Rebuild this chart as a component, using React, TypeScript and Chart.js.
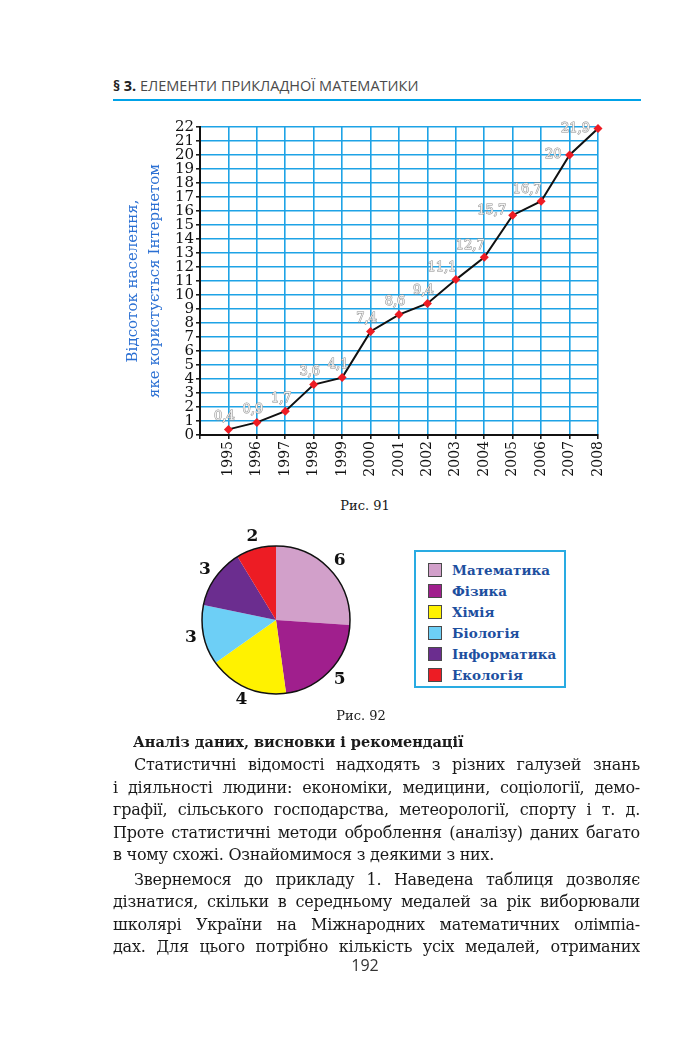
import React, { useEffect, useRef } from 'react';
import { Chart, registerables } from 'chart.js';

Chart.register(...registerables);

// ---------- data ----------
const years = [1995, 1996, 1997, 1998, 1999, 2000, 2001, 2002, 2003, 2004, 2005, 2006, 2007, 2008];
const internetShare = [0.4, 0.9, 1.7, 3.6, 4.1, 7.4, 8.6, 9.4, 11.1, 12.7, 15.7, 16.7, 20, 21.9];
const yMin = 0;
const yMax = 22;
const yAxisTitle = ['Відсоток населення,', 'яке користується Інтернетом'];

const subjects = ['Математика', 'Фізика', 'Хімія', 'Біологія', 'Інформатика', 'Екологія'];
const subjectCounts = [6, 5, 4, 3, 3, 2];
const subjectColors = ['#d2a0ca', '#a01f8d', '#fff200', '#6dcff6', '#6b2d8f', '#ed1c24'];

// ---------- styles (not data) ----------
const labelPlacement = ['up', 'up', 'up', 'up', 'up', 'up', 'up', 'up', 'upleft', 'upleft', 'leftup', 'upleft', 'left', 'left'];
const SERIF = '"DejaVu Serif", serif';
const GRID = '#1ea3e6';

const bodyLines: { text: string; indent: boolean; last: boolean }[] = [
  { text: 'Статистичні відомості надходять з різних галузей знань', indent: true, last: false },
  { text: 'і діяльності людини: економіки, медицини, соціології, демо-', indent: false, last: false },
  { text: 'графії, сільського господарства, метеорології, спорту і т. д.', indent: false, last: false },
  { text: 'Проте статистичні методи оброблення (аналізу) даних багато', indent: false, last: false },
  { text: 'в чому схожі. Ознайомимося з деякими з них.', indent: false, last: true },
  { text: 'Звернемося до прикладу 1. Наведена таблиця дозволяє', indent: true, last: false },
  { text: 'дізнатися, скільки в середньому медалей за рік виборювали', indent: false, last: false },
  { text: 'школярі України на Міжнародних математичних олімпіа-', indent: false, last: false },
  { text: 'дах. Для цього потрібно кількість усіх медалей, отриманих', indent: false, last: false },
];
const bodyLineY = [765, 788, 810, 833, 855, 880, 902, 925, 947];

function fmt(v: number) {
  return String(v).replace('.', ',');
}

function LineChart() {
  const ref = useRef<HTMLCanvasElement>(null);
  useEffect(() => {
    const valueLabels = {
      id: 'valueLabels',
      afterDatasetsDraw(chart: any) {
        const ctx = chart.ctx;
        const meta = chart.getDatasetMeta(0);
        ctx.save();
        ctx.font = `13px ${SERIF}`;
        ctx.textBaseline = 'middle';
        meta.data.forEach((pt: any, i: number) => {
          const t = fmt(internetShare[i]);
          const p = labelPlacement[i];
          let x = pt.x, y = pt.y;
          ctx.textAlign = 'center';
          if (p === 'up') { x -= 4; y -= 13; }
          else if (p === 'upleft') { x -= 14; y -= 12; }
          else if (p === 'leftup') { x -= 21; y -= 5; }
          else if (p === 'left') { x -= 8; ctx.textAlign = 'right'; }
          ctx.lineWidth = 1;
          ctx.strokeStyle = '#8c8c8c';
          ctx.strokeText(t, x, y);
          ctx.fillStyle = '#f2f2f2';
          ctx.fillText(t, x, y);
        });
        ctx.restore();
      },
    };

    const chart = new Chart(ref.current!, {
      type: 'line',
      data: {
        datasets: [
          {
            data: years.map((yr, i) => ({ x: yr, y: internetShare[i] })),
            borderColor: '#111',
            borderWidth: 2,
            tension: 0,
            pointStyle: 'rectRot',
            pointRadius: 4.5,
            pointBackgroundColor: '#ee1c24',
            pointBorderWidth: 0,
            clip: false as any,
          },
        ],
      },
      options: {
        animation: false,
        responsive: false,
        devicePixelRatio: 1,
        layout: { padding: { top: 22, right: 22, left: 0, bottom: 0 } },
        plugins: { legend: { display: false }, tooltip: { enabled: false } },
        scales: {
          x: {
            type: 'linear',
            min: years[0] - 1,
            max: years[years.length - 1],
            afterFit: (s: any) => { s.height = 55; },
            grid: { color: GRID, lineWidth: 1.6, tickColor: '#111', tickLength: 4, tickWidth: 1.5 },
            border: { color: '#111', width: 2 },
            ticks: {
              stepSize: 1,
              autoSkip: false,
              minRotation: 90,
              maxRotation: 90,
              padding: 2,
              color: '#111',
              font: { family: SERIF, size: 14 },
              callback: (v: any) => (years.includes(Number(v)) ? String(v) : ''),
            },
          },
          y: {
            min: yMin,
            max: yMax,
            afterFit: (s: any) => { s.width = 100; },
            grid: { color: GRID, lineWidth: 1.6, tickColor: '#111', tickLength: 4, tickWidth: 1.5 },
            border: { color: '#111', width: 2 },
            ticks: {
              stepSize: 1,
              autoSkip: false,
              padding: 2,
              color: '#111',
              font: { family: SERIF, size: 15 },
            },
            title: {
              display: true,
              text: yAxisTitle,
              color: '#2a6fd3',
              font: { family: SERIF, size: 15, lineHeight: 1.45 },
              padding: { top: 22, bottom: 0 },
            },
          },
        },
      },
      plugins: [valueLabels],
    } as any);
    return () => chart.destroy();
  }, []);
  return <canvas ref={ref} width={520} height={385} style={{ position: 'absolute', left: 100, top: 105 }} />;
}

function PieChart() {
  const ref = useRef<HTMLCanvasElement>(null);
  useEffect(() => {
    const pieDecor = {
      id: 'pieDecor',
      afterDatasetsDraw(chart: any) {
        const ctx = chart.ctx;
        const arcs = chart.getDatasetMeta(0).data;
        if (!arcs.length) return;
        const a0 = arcs[0];
        ctx.save();
        ctx.beginPath();
        ctx.arc(a0.x, a0.y, a0.outerRadius, 0, Math.PI * 2);
        ctx.lineWidth = 1.5;
        ctx.strokeStyle = '#111';
        ctx.stroke();
        ctx.font = `bold 17px ${SERIF}`;
        ctx.fillStyle = '#111';
        ctx.textAlign = 'center';
        ctx.textBaseline = 'middle';
        arcs.forEach((a: any, i: number) => {
          const mid = (a.startAngle + a.endAngle) / 2;
          const r = a.outerRadius + 13;
          ctx.fillText(String(subjectCounts[i]), a.x + Math.cos(mid) * r, a.y + Math.sin(mid) * r);
        });
        ctx.restore();
      },
    };
    const chart = new Chart(ref.current!, {
      type: 'pie',
      data: {
        labels: subjects,
        datasets: [{ data: subjectCounts, backgroundColor: subjectColors, borderWidth: 0 }],
      },
      options: {
        animation: false,
        responsive: false,
        devicePixelRatio: 1,
        layout: { padding: { top: 26, bottom: 26, left: 36, right: 36 } },
        plugins: { legend: { display: false }, tooltip: { enabled: false } },
      },
      plugins: [pieDecor],
    } as any);
    return () => chart.destroy();
  }, []);
  return <canvas ref={ref} width={220} height={200} style={{ position: 'absolute', left: 166, top: 520 }} />;
}

export default function App() {
  return (
    <div
      style={{
        position: 'absolute',
        left: 0,
        top: 0,
        width: 700,
        height: 1046,
        background: '#fff',
        overflow: 'hidden',
        color: '#1a1a1a',
      }}
    >
      {/* header */}
      <div
        style={{
          position: 'absolute',
          left: 113,
          top: 76,
          height: 20,
          lineHeight: '20px',
          fontFamily: '"Open Sans", sans-serif',
          fontSize: 14.5,
          color: '#4a4a4a',
          whiteSpace: 'nowrap',
        }}
      >
        <span style={{ fontWeight: 700, color: '#222' }}>§ 3.</span> ЕЛЕМЕНТИ ПРИКЛАДНОЇ МАТЕМАТИКИ
      </div>
      <div style={{ position: 'absolute', left: 113, top: 99, width: 528, height: 2, background: '#00a2e8' }} />

      <LineChart />
      <div
        style={{
          position: 'absolute',
          left: 300,
          width: 130,
          top: 497,
          textAlign: 'center',
          fontFamily: SERIF,
          fontSize: 13,
          lineHeight: '18px',
        }}
      >
        Рис. 91
      </div>

      <PieChart />
      <div
        style={{
          position: 'absolute',
          left: 414,
          top: 550,
          width: 148,
          height: 134,
          border: '2px solid #29abe2',
        }}
      >
        {subjects.map((s, i) => (
          <div
            key={s}
            style={{ position: 'absolute', left: 12, top: 8 + i * 21, height: 20, display: 'flex', alignItems: 'center' }}
          >
            <div
              style={{
                width: 12,
                height: 12,
                background: subjectColors[i],
                border: '1px solid #4a4a4a',
                marginRight: 10,
              }}
            />
            <span
              style={{
                fontFamily: SERIF,
                fontWeight: 700,
                fontSize: 13.5,
                color: '#1d4f9f',
                whiteSpace: 'nowrap',
              }}
            >
              {s}
            </span>
          </div>
        ))}
      </div>
      <div
        style={{
          position: 'absolute',
          left: 300,
          width: 122,
          top: 707,
          textAlign: 'center',
          fontFamily: SERIF,
          fontSize: 13,
          lineHeight: '18px',
        }}
      >
        Рис. 92
      </div>

      <div
        style={{
          position: 'absolute',
          left: 133,
          top: 731,
          lineHeight: '22px',
          fontFamily: SERIF,
          fontWeight: 700,
          fontSize: 14.5,
          whiteSpace: 'nowrap',
        }}
      >
        Аналіз даних, висновки і рекомендації
      </div>

      {bodyLines.map((l, i) => (
        <div
          key={i}
          style={{
            position: 'absolute',
            left: l.indent ? 134 : 113,
            width: l.indent ? 506 : 527,
            top: bodyLineY[i] - 11,
            height: 22,
            lineHeight: '22px',
            fontFamily: SERIF,
            fontSize: 16,
            letterSpacing: '-0.25px',
            textAlign: 'justify',
            textAlignLast: l.last ? 'left' : 'justify',
            overflow: 'hidden',
          } as any}
        >
          {l.text}
        </div>
      ))}

      <div
        style={{
          position: 'absolute',
          left: 315,
          width: 100,
          top: 954,
          textAlign: 'center',
          fontFamily: '"Open Sans", sans-serif',
          fontSize: 16,
          lineHeight: '22px',
          color: '#333',
        }}
      >
        192
      </div>
    </div>
  );
}
